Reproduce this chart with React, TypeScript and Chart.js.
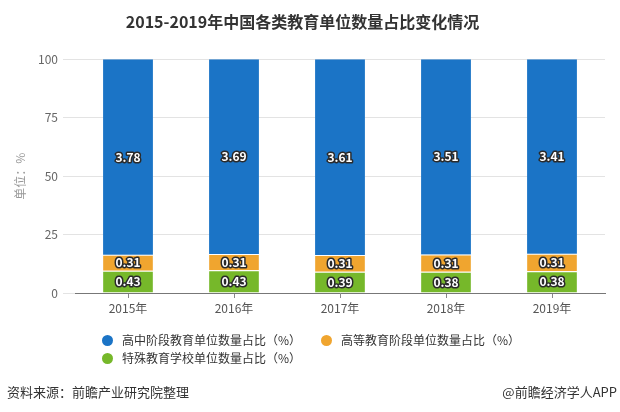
import React, { useEffect, useRef } from "react";
import { Chart, registerables } from "chart.js";

Chart.register(...registerables);

const years = ["2015年", "2016年", "2017年", "2018年", "2019年"];
const highSchool = [3.78, 3.69, 3.61, 3.51, 3.41];
const higherEd = [0.31, 0.31, 0.31, 0.31, 0.31];
const special = [0.43, 0.43, 0.39, 0.38, 0.38];
const seriesNames = [
  "高中阶段教育单位数量占比（%）",
  "高等教育阶段单位数量占比（%）",
  "特殊教育学校单位数量占比（%）",
];
const seriesColors = ["#1b74c6", "#f0a52f", "#76b82a"];
const yTickValues = [0, 25, 50, 75, 100];
const titleText = "2015-2019年中国各类教育单位数量占比变化情况";
const yTitleText = "单位：%";
const sourceText = "资料来源：前瞻产业研究院整理";
const creditText = "@前瞻经济学人APP";

const FONT = "'Noto Sans CJK SC', 'Noto Sans', sans-serif";

const totals = years.map((_, i) => highSchool[i] + higherEd[i] + special[i]);
const toPct = (arr: number[]) => arr.map((v, i) => (v / totals[i]) * 100);

// bottom to top stacking order
const stackRaw = [special, higherEd, highSchool];
const stackColors = [seriesColors[2], seriesColors[1], seriesColors[0]];
const stackNames = [seriesNames[2], seriesNames[1], seriesNames[0]];

const labelPlugin = {
  id: "segLabels",
  afterDatasetsDraw(chart: any) {
    const ctx = chart.ctx;
    ctx.save();
    ctx.font = `bold 12px ${FONT}`;
    ctx.textAlign = "center";
    ctx.textBaseline = "middle";
    ctx.lineJoin = "round";
    chart.data.datasets.forEach((ds: any, di: number) => {
      const meta = chart.getDatasetMeta(di);
      meta.data.forEach((el: any, i: number) => {
        const { x, y, base } = el.getProps(["x", "y", "base"], true);
        const cy = (y + base) / 2;
        const t = stackRaw[di][i].toFixed(2);
        ctx.lineWidth = 3;
        ctx.strokeStyle = "#2a2a2a";
        ctx.strokeText(t, x, cy);
        ctx.fillStyle = "#ffffff";
        ctx.fillText(t, x, cy);
      });
    });
    ctx.restore();
  },
};

export default function App() {
  const ref = useRef<HTMLCanvasElement | null>(null);

  useEffect(() => {
    if (!ref.current) return;
    const chart = new Chart(ref.current, {
      type: "bar",
      data: {
        labels: years,
        datasets: stackRaw.map((arr, k) => ({
          label: stackNames[k],
          data: toPct(arr),
          backgroundColor: stackColors[k],
          borderColor: "#ffffff",
          borderWidth: { top: k < 2 ? 1 : 0, bottom: 0, left: 0, right: 0 },
          borderSkipped: false,
          barPercentage: 0.47,
          categoryPercentage: 1,
        })),
      },
      options: {
        responsive: false,
        animation: false,
        layout: { padding: { left: 0, right: 15, top: 0, bottom: 89 } },
        plugins: {
          legend: { display: false },
          tooltip: { enabled: false },
          title: {
            display: true,
            text: titleText,
            color: "#333333",
            font: { family: FONT, size: 16, weight: "bold" },
            padding: { top: 12, bottom: 28 },
          },
        },
        scales: {
          x: {
            stacked: true,
            afterFit: (s: any) => {
              s.height = 30;
            },
            grid: {
              display: true,
              drawOnChartArea: false,
              offset: false,
              tickLength: 5,
              color: "#888888",
            },
            border: { display: true, color: "#777777" },
            ticks: { color: "#555555", font: { family: FONT, size: 12 }, padding: 3 },
          },
          y: {
            stacked: true,
            min: 0,
            max: 100,
            afterFit: (s: any) => {
              s.width = 75;
            },
            afterBuildTicks: (s: any) => {
              s.ticks = yTickValues.map((v) => ({ value: v }));
            },
            grid: { color: "#e3e3e3", tickLength: 12 },
            border: { display: false },
            ticks: { color: "#666666", font: { family: FONT, size: 12 }, padding: 5 },
            title: {
              display: true,
              text: yTitleText,
              color: "#999999",
              font: { family: FONT, size: 12 },
              padding: { top: 13, bottom: 0 },
            },
          },
        },
      },
      plugins: [labelPlugin],
    });
    return () => chart.destroy();
  }, []);

  const legendItem = (name: string, color: string, left: number, top: number) => (
    <div
      key={name}
      style={{
        position: "absolute",
        left,
        top,
        height: 18,
        display: "flex",
        alignItems: "center",
        whiteSpace: "nowrap",
      }}
    >
      <span
        style={{
          width: 11,
          height: 11,
          borderRadius: "50%",
          background: color,
          display: "inline-block",
          marginRight: 9,
        }}
      />
      <span style={{ fontSize: 12, color: "#333", lineHeight: "18px" }}>{name}</span>
    </div>
  );

  return (
    <div
      style={{
        position: "fixed",
        left: 0,
        top: 0,
        width: 620,
        height: 412,
        background: "#fff",
        fontFamily: FONT,
        overflow: "hidden",
      }}
    >
      <canvas ref={ref} width={620} height={412} style={{ position: "absolute", left: 0, top: 0 }} />
      {legendItem(seriesNames[0], seriesColors[0], 102, 331)}
      {legendItem(seriesNames[1], seriesColors[1], 321, 331)}
      {legendItem(seriesNames[2], seriesColors[2], 102, 349)}
      <div
        style={{
          position: "absolute",
          left: 7,
          top: 383,
          fontSize: 13,
          color: "#333",
          lineHeight: "18px",
          whiteSpace: "nowrap",
        }}
      >
        {sourceText}
      </div>
      <div
        style={{
          position: "absolute",
          right: 3,
          top: 383,
          fontSize: 13,
          color: "#333",
          lineHeight: "18px",
          whiteSpace: "nowrap",
        }}
      >
        {creditText}
      </div>
    </div>
  );
}
